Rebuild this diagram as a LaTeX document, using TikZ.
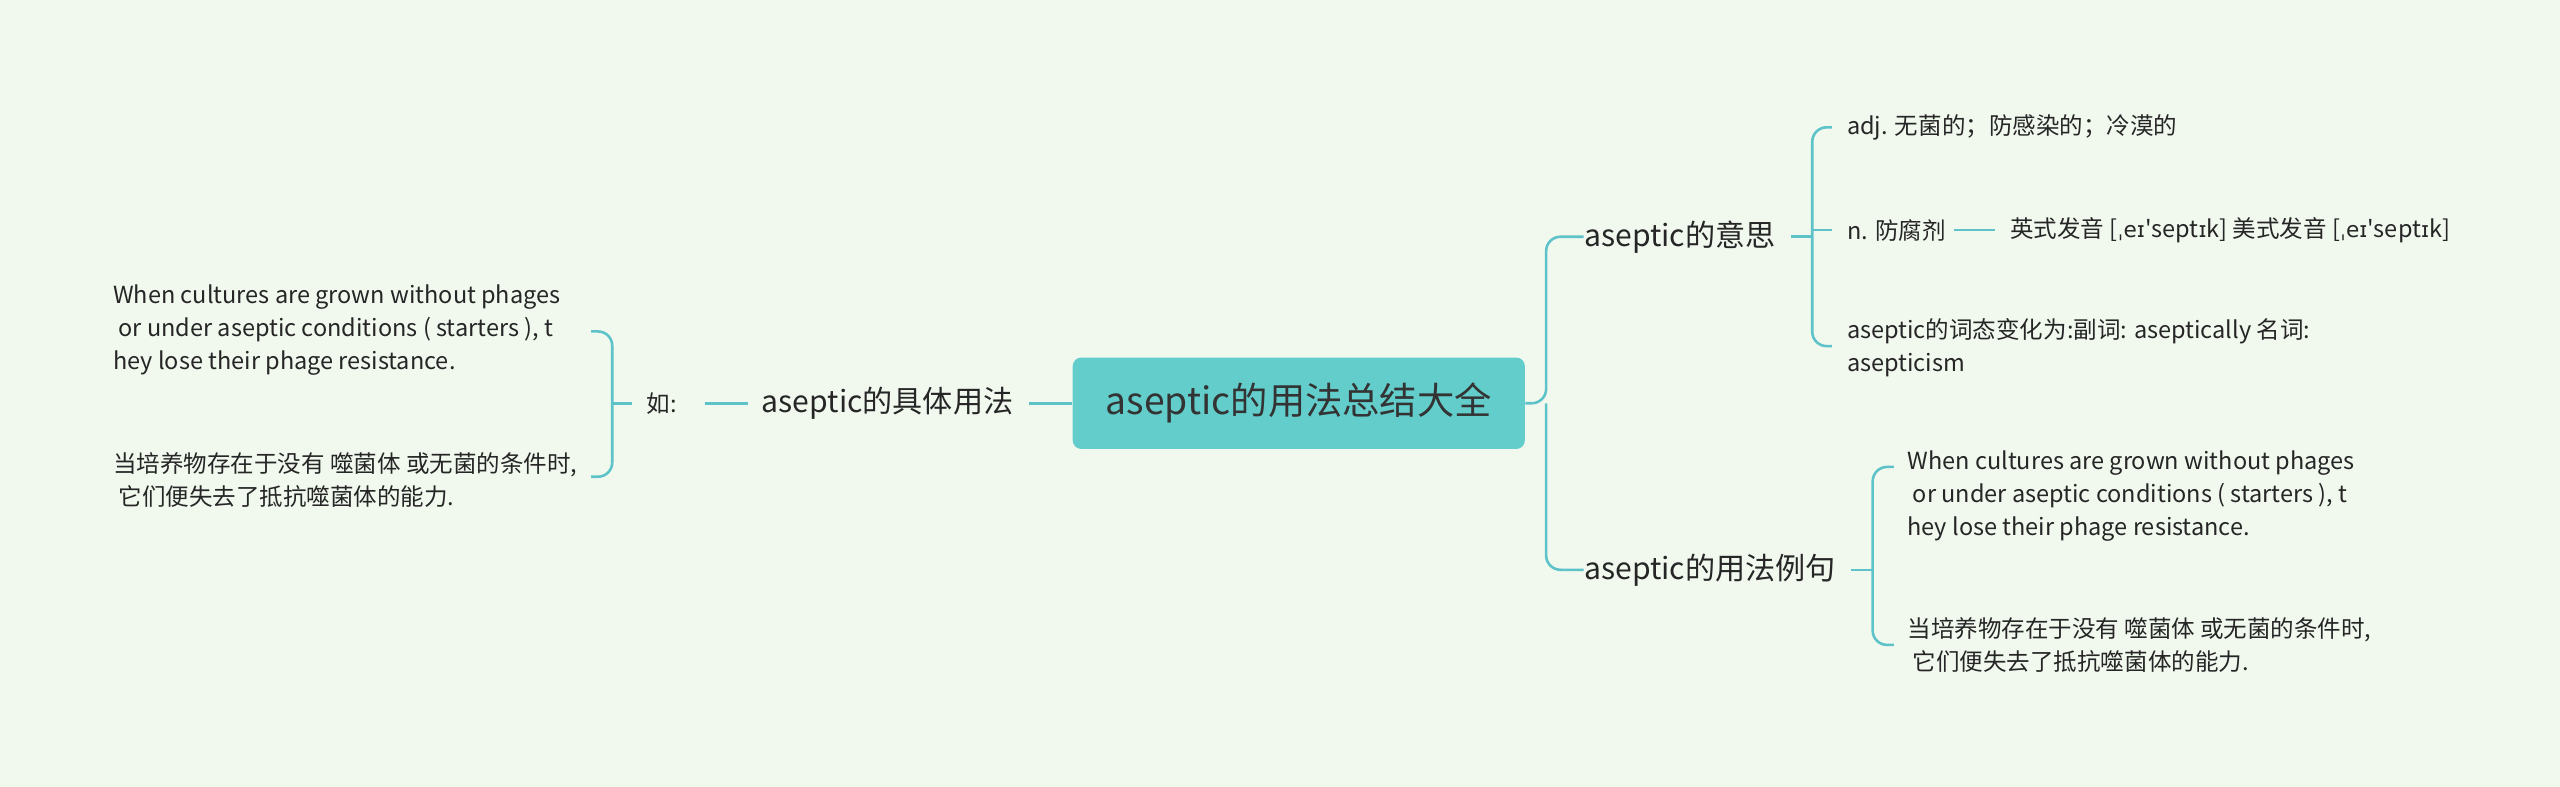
\documentclass[tikz,border=0pt]{standalone}
\usepackage{fontspec}
\setmainfont{Noto Sans CJK SC}
\newfontfamily\ipafont[Scale=0.92]{DejaVu Sans}
\usetikzlibrary{positioning}
\definecolor{bgColor}{HTML}{F1F9EF}
\definecolor{lineColor}{HTML}{5EC3C9}
\definecolor{boxColor}{HTML}{62CDCB}
\colorlet{textColor}{black!85}
\newcommand{\ipaword}{[{\ipafont ˌeɪ}\textquotesingle sept{\ipafont ɪ}k]}
\tikzset{
  leaf/.style={right,inner sep=0pt,text=textColor,font=\fontsize{8.2}{11.5}\selectfont,align=left},
  branch/.style={right,inner sep=0pt,text=textColor,font=\fontsize{10.5}{13}\selectfont},
  link/.style={lineColor,line width=0.9pt,rounded corners=5pt}
}
\begin{document}
\begin{tikzpicture}[x=0.02cm,y=-0.02cm]
\fill[bgColor] (0,0) rectangle (1568,482);
\node [fill=boxColor,rounded corners=3pt,minimum width=5.54cm,minimum height=1.12cm,
  text=black!80,font=\fontsize{13}{16}\selectfont] (root) at (795.5,247) {aseptic的用法总结大全};
% right side
\node [branch] (mean) at (970,145) {aseptic的意思};
\node [branch] (usage) at (970,349) {aseptic的用法例句};
\draw [link] (root.east) -- (947,247) |- (mean.west);
\draw [link] (947,247) |- (usage.west);
\node [leaf] (adj) at (1131,78) {adj. 无菌的；防感染的；冷漠的};
\node [leaf] (noun) at (1131,141) {n. 防腐剂};
\node [leaf] (pron) at (1231,141) {英式发音 \ipaword{} 美式发音 \ipaword};
\node [leaf] (form) at (1131,213) {aseptic的词态变化为:副词: aseptically 名词:\\asepticism};
\draw [link] (1097,145) -- (1110,145);
\draw [link] (1122,78) -| (1110,145) |- (1122,212);
\draw [link] (1110,141) -- (1122,141);
\draw [link] (1197,141) -- (1222,141);
\node [leaf] (exEn) at (1168,304) {When cultures are grown without phages\\\ or under aseptic conditions ( starters ), t\\hey lose their phage resistance.};
\node [leaf] (exCn) at (1168,395) {当培养物存在于没有 噬菌体 或无菌的条件时,\\\ 它们便失去了抵抗噬菌体的能力.};
\draw [link] (1134,349) -- (1147,349);
\draw [link] (1160,286) -| (1147,349) |- (1160,395);
% left side
\node [branch,left] (use) at (621,247) {aseptic的具体用法};
\draw [link] (root.west) -- (630,247);
\node [leaf,left] (ru) at (415,247) {如:};
\draw [link] (432,247) -- (458,247);
\node [leaf] (lEn) at (69,202) {When cultures are grown without phages\\\ or under aseptic conditions ( starters ), t\\hey lose their phage resistance.};
\node [leaf] (lCn) at (69,294) {当培养物存在于没有 噬菌体 或无菌的条件时,\\\ 它们便失去了抵抗噬菌体的能力.};
\draw [link] (387,247) -- (375,247);
\draw [link] (362,203) -| (375,247) |- (362,292);
\end{tikzpicture}
\end{document}
